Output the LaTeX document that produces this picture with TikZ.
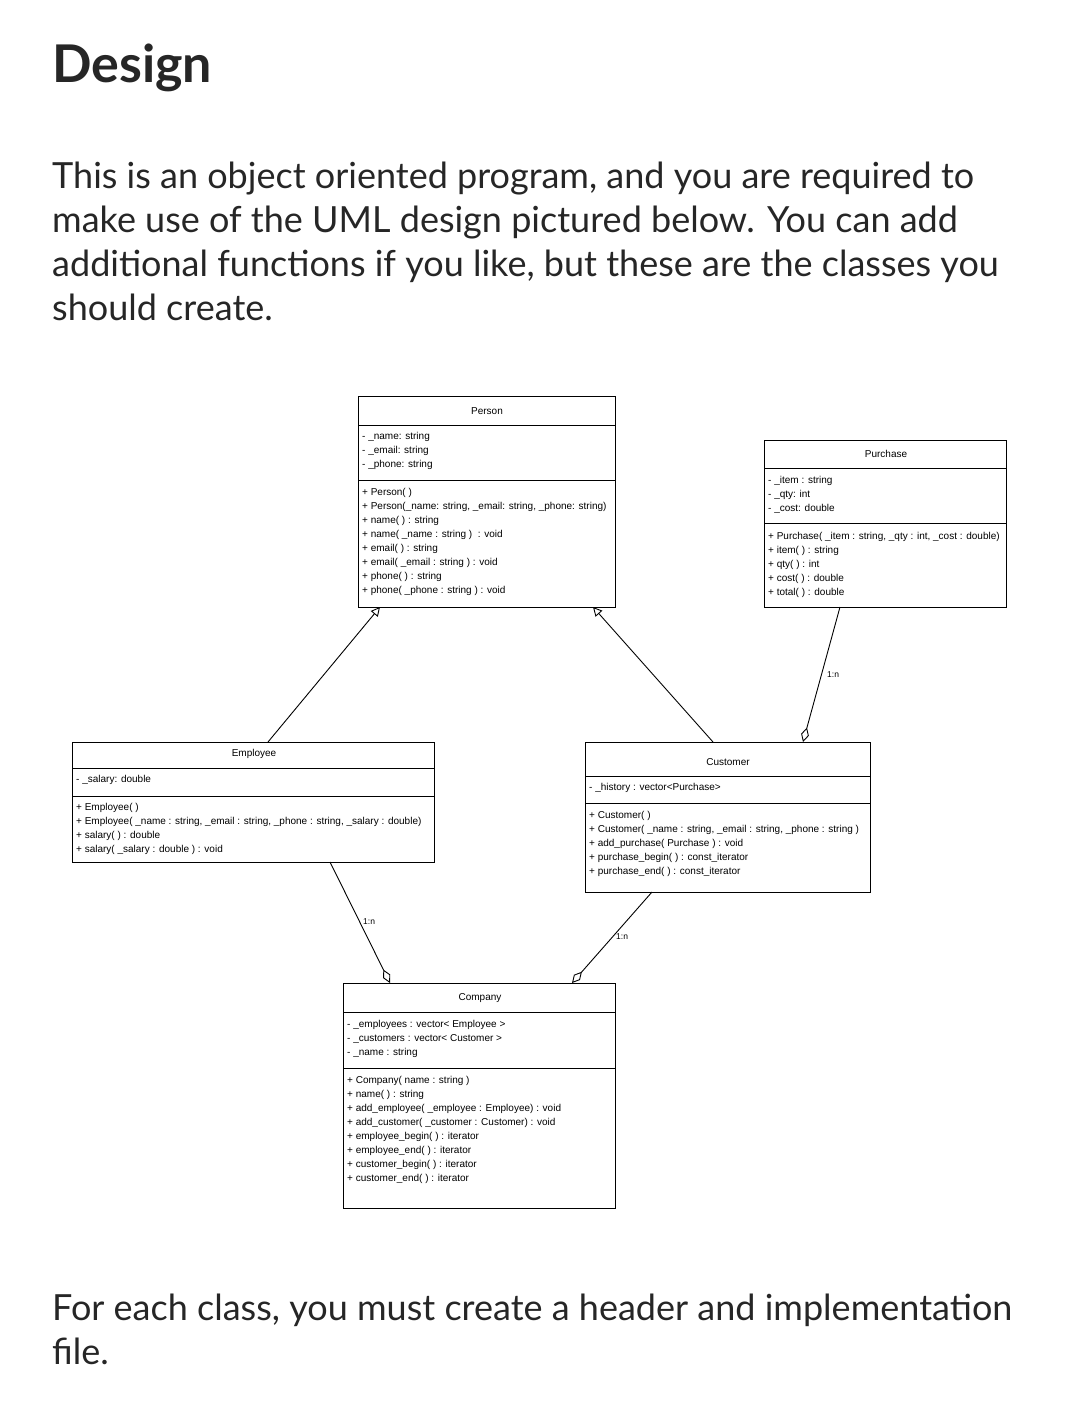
\documentclass[tikz,border=0pt]{standalone}
\usepackage{fontspec}
\setmainfont{Lato}
\newfontfamily\umlf{Liberation Sans}
\usetikzlibrary{arrows.meta}
\begin{document}
\begin{tikzpicture}[x=1pt,y=-1pt,
  box/.style={draw,line width=1pt,anchor=north west,inner sep=0pt},
  cls/.style={anchor=center,font=\umlf\fontsize{10}{14}\selectfont},
  comp/.style={anchor=north west,align=left,inner sep=0pt,font=\umlf\fontsize{10}{14}\selectfont},
  body/.style={anchor=north west,align=left,inner sep=0pt,text=black!85,font=\fontsize{36}{44}\selectfont},
  inh/.style={line width=0.9pt,-{Triangle[open,length=9pt,width=9pt]}},
  agg/.style={line width=0.9pt,-{Diamond[open,length=15pt,width=8pt]}},
  lab/.style={font=\umlf\fontsize{8.5}{9}\selectfont,inner sep=1pt}]
\useasboundingbox[fill=white] (0,0) rectangle (1078,1408);
\node[anchor=west,inner sep=0pt,text=black!85,font=\bfseries\fontsize{52}{56}\selectfont] (title) at (52,68) {Design};
\node[body] (intro) at (52,162) {This is an object oriented program, and you are required to\\make use of the UML design pictured below. You can add\\additional functions if you like, but these are the classes you\\should create.};
\node[body] (outro) at (52,1294) {For each class, you must create a header and implementation\\file.};
% Person
\node[box,minimum width=257pt,minimum height=211pt] (person) at (358,396) {};
\draw[line width=1pt] (358,425) -- (615,425) (358,480) -- (615,480);
\node[cls] (personN) at (487,411) {Person};
\node[comp] (personA) at (362,432) {- \_name: string\\- \_email: string\\- \_phone: string};
\node[comp] (personM) at (362,488) {+ Person( )\\+ Person(\_name: string, \_email: string, \_phone: string)\\+ name( ) : string\\+ name( \_name : string )~ : void\\+ email( ) : string\\+ email( \_email : string ) : void\\+ phone( ) : string\\+ phone( \_phone : string ) : void};
% Purchase
\node[box,minimum width=242pt,minimum height=167pt] (purchase) at (764,440) {};
\draw[line width=1pt] (764,468) -- (1006,468) (764,523) -- (1006,523);
\node[cls] (purchaseN) at (886,454) {Purchase};
\node[comp] (purchaseA) at (768,476) {- \_item : string\\- \_qty: int\\- \_cost: double};
\node[comp] (purchaseM) at (768,532) {+ Purchase( \_item : string, \_qty : int, \_cost : double)\\+ item( ) : string\\+ qty( ) : int\\+ cost( ) : double\\+ total( ) : double};
% Employee
\node[box,minimum width=362pt,minimum height=120pt] (employee) at (72,742) {};
\draw[line width=1pt] (72,768) -- (434,768) (72,796) -- (434,796);
\node[cls] (employeeN) at (254,754) {Employee};
\node[comp] (employeeA) at (76,775) {- \_salary: double};
\node[comp] (employeeM) at (76,803) {+ Employee( )\\+ Employee( \_name : string, \_email : string, \_phone : string, \_salary : double)\\+ salary( ) : double\\+ salary( \_salary : double ) : void};
% Customer
\node[box,minimum width=285pt,minimum height=150pt] (customer) at (585,742) {};
\draw[line width=1pt] (585,776) -- (870,776) (585,803) -- (870,803);
\node[cls] (customerN) at (728,762) {Customer};
\node[comp] (customerA) at (589,783) {- \_history : vector<Purchase>};
\node[comp] (customerM) at (589,811) {+ Customer( )\\+ Customer( \_name : string, \_email : string, \_phone : string )\\+ add\_purchase( Purchase ) : void\\+ purchase\_begin( ) : const\_iterator\\+ purchase\_end( ) : const\_iterator};
% Company
\node[box,minimum width=272pt,minimum height=225pt] (company) at (343,983) {};
\draw[line width=1pt] (343,1012) -- (615,1012) (343,1068) -- (615,1068);
\node[cls] (companyN) at (480,998) {Company};
\node[comp] (companyA) at (347,1020) {- \_employees : vector< Employee >\\- \_customers : vector< Customer >\\- \_name : string};
\node[comp] (companyM) at (347,1076) {+ Company( name : string )\\+ name( ) : string\\+ add\_employee( \_employee : Employee) : void\\+ add\_customer( \_customer : Customer) : void\\+ employee\_begin( ) : iterator\\+ employee\_end( ) : iterator\\+ customer\_begin( ) : iterator\\+ customer\_end( ) : iterator};
% connector end points
\coordinate (e1) at (268,742); \coordinate (p1) at (380,607);
\coordinate (c1) at (713,742); \coordinate (p2) at (593,607);
\coordinate (pu) at (840,607); \coordinate (c2) at (803,742);
\coordinate (e2) at (330,862); \coordinate (co1) at (390,983);
\coordinate (c3) at (652,892); \coordinate (co2) at (572,983);
\draw[inh] (e1) -- (p1);
\draw[inh] (c1) -- (p2);
\draw[agg] (pu) -- (c2);
\draw[agg] (e2) -- (co1);
\draw[agg] (c3) -- (co2);
\node[lab,anchor=west] (l1) at (826,675) {1:n};
\node[lab,anchor=west] (l2) at (362,922) {1:n};
\node[lab,anchor=west] (l3) at (615,937) {1:n};
\end{tikzpicture}
\end{document}
